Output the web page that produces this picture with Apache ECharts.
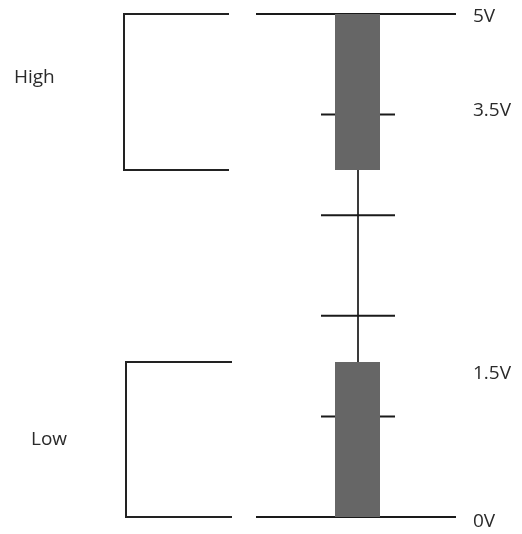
<!DOCTYPE html>
<html>
<head>
<meta charset="utf-8">
<script src="https://cdn.jsdelivr.net/npm/echarts@6/dist/echarts.min.js"></script>
<style>
  html, body { margin: 0; padding: 0; background: #fff; }
  #main { width: 522px; height: 534px; }
</style>
</head>
<body>
<div id="main"></div>
<script>
// logic level data (volts)
var levelNames = ['High', 'Low'];
var levelTop = [5, 1.54];
var levelBottom = [3.45, 0];
var levelLabelAt = [4.37, 0.77];
var railVolts = [5, 0];
var tickVolts = [4, 3, 2, 1];
var voltLabels = ['5V', '3.5V', '1.5V', '0V'];
var voltLabelAt = [4.97, 4.04, 1.43, -0.05];

// horizontal layout (x axis runs 0..522)
var bracketX = [[124, 229], [126, 232]];
var railX = [256, 456];
var barX = [335, 380];
var stemX = 358;
var tickX = [321, 395];
var nameX = [14, 31];
var voltX = 473;
var textFont = '19px "Open Sans"';

var myChart = echarts.init(document.getElementById('main'));

function seg(api, x1, v1, x2, v2, color, width) {
    var a = api.coord([x1, v1]), b = api.coord([x2, v2]);
    return {
        type: 'line',
        shape: { x1: a[0], y1: a[1], x2: b[0], y2: b[1] },
        style: { stroke: color, lineWidth: width }
    };
}

var option = {
    animation: false,
    grid: { left: 0, right: 0, top: 14, bottom: 17 },
    xAxis: { type: 'value', min: 0, max: 522, show: false },
    yAxis: { type: 'value', min: 0, max: 5, show: false },
    series: [
        {
            // brackets + level names
            type: 'custom',
            z: 2,
            data: levelNames.map(function (n, i) { return [i]; }),
            renderItem: function (params, api) {
                var i = params.dataIndex;
                var bx = bracketX[i];
                var p1 = api.coord([bx[1], levelTop[i]]);
                var p2 = api.coord([bx[0], levelTop[i]]);
                var p3 = api.coord([bx[0], levelBottom[i]]);
                var p4 = api.coord([bx[1], levelBottom[i]]);
                var t = api.coord([nameX[i], levelLabelAt[i]]);
                return {
                    type: 'group',
                    children: [
                        {
                            type: 'polyline',
                            shape: { points: [p1, p2, p3, p4] },
                            style: { stroke: '#222', lineWidth: 2, fill: null }
                        },
                        {
                            type: 'text',
                            style: {
                                text: levelNames[i], x: t[0], y: t[1],
                                font: textFont, fill: '#2a2a2a',
                                textAlign: 'left', textVerticalAlign: 'middle'
                            }
                        }
                    ]
                };
            }
        },
        {
            // rails, stem, ticks
            type: 'custom',
            z: 2,
            data: [[0]],
            renderItem: function (params, api) {
                var ch = [];
                railVolts.forEach(function (v) {
                    ch.push(seg(api, railX[0], v, railX[1], v, '#1a1a1a', 2));
                });
                ch.push(seg(api, stemX, levelBottom[0], stemX, levelTop[1], '#3a3a3a', 2));
                tickVolts.forEach(function (v) {
                    ch.push(seg(api, tickX[0], v, tickX[1], v, '#1a1a1a', 2));
                });
                return { type: 'group', children: ch };
            }
        },
        {
            // level bars
            type: 'custom',
            z: 3,
            data: levelNames.map(function (n, i) { return [i]; }),
            renderItem: function (params, api) {
                var i = params.dataIndex;
                var a = api.coord([barX[0], levelTop[i]]);
                var b = api.coord([barX[1], levelBottom[i]]);
                return {
                    type: 'rect',
                    shape: { x: a[0], y: a[1], width: b[0] - a[0], height: b[1] - a[1] },
                    style: { fill: '#666666' }
                };
            }
        },
        {
            // voltage labels
            type: 'custom',
            z: 4,
            data: voltLabels.map(function (n, i) { return [i]; }),
            renderItem: function (params, api) {
                var i = params.dataIndex;
                var p = api.coord([voltX, voltLabelAt[i]]);
                return {
                    type: 'text',
                    style: {
                        text: voltLabels[i], x: p[0], y: p[1],
                        font: textFont, fill: '#2a2a2a',
                        textAlign: 'left', textVerticalAlign: 'middle'
                    }
                };
            }
        }
    ]
};

myChart.setOption(option);
</script>
</body>
</html>
